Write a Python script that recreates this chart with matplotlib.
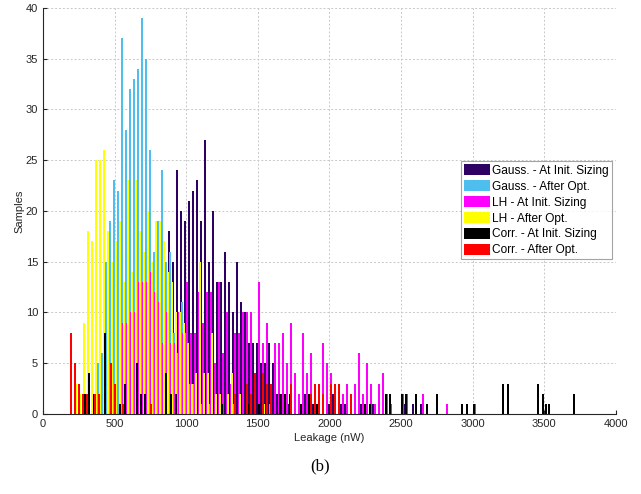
import matplotlib
matplotlib.use("Agg")
import matplotlib.pyplot as plt
import numpy as np

# histogram bin step (nW) and first bin centre of every series
BIN_STEP = 27.92

gauss_init_start = 684.5
gauss_init = [7, 9, 8, 15, 10, 19, 14, 18, 15, 24, 20, 19, 21, 22, 23, 19, 27, 15, 20, 13,
              13, 16, 13, 10, 15, 11, 10, 7, 7, 7, 5, 5, 7, 5, 2, 2, 2, 1, 0, 0,
              1, 2, 1, 1, 0, 0, 0, 1, 2, 0, 1, 1, 0, 0, 0, 1, 0, 0, 1, 0,
              0, 0, 0, 0, 0, 0, 1, 0, 1, 0, 1]

gauss_opt_start = 356.5
gauss_opt = [1, 5, 6, 15, 19, 23, 22, 37, 28, 32, 33, 34, 39, 35, 26, 16, 19, 24, 15, 16,
             8, 6, 11, 8, 3, 3, 0, 1, 0, 1, 0, 0, 1, 0, 0, 1, 0, 0, 0, 0,
             0, 0, 0, 0, 1]

lh_init_start = 558.5
lh_init = [9, 9, 10, 10, 13, 13, 13, 14, 12, 11, 7, 10, 7, 7, 10, 8, 13, 8, 8, 12,
           9, 12, 12, 5, 13, 6, 10, 3, 8, 8, 10, 10, 10, 4, 13, 7, 9, 3, 7, 7,
           8, 5, 9, 4, 2, 8, 4, 6, 3, 3, 7, 5, 4, 2, 3, 2, 3, 2, 3, 6,
           2, 5, 3, 1, 3, 4, 2, 1, 0, 0, 2, 2, 0, 0, 0, 2, 0, 0, 0, 0,
           0, 1, 0, 0, 0, 0, 0, 0, 1]

lh_opt_start = 230.5
lh_opt = [3, 2, 9, 18, 17, 25, 25, 26, 18, 15, 17, 19, 13, 23, 14, 23, 18, 16, 20, 15,
          19, 19, 17, 14, 13, 10, 10, 9, 7, 3, 4, 15, 4, 4, 8, 2, 2, 0, 2, 4,
          0, 2, 0, 0, 0, 0, 0, 1]

corr_opt_start = 195.5
corr_opt = [8, 5, 3, 2, 2, 0, 2, 2, 0, 0, 5, 3, 0, 1, 0, 0, 0, 0, 0, 0,
            1, 0, 0, 0, 0, 0, 0, 0, 0, 0, 0, 0, 0, 0, 0, 0, 0, 0, 0, 0,
            0, 2, 0, 0, 3, 2, 4, 0, 4, 3, 3, 0, 0, 0, 0, 3, 0, 0, 0, 0,
            2, 3, 3, 2, 0, 3, 3, 3, 0, 0, 2]

# the initial-sizing correlated run is sparse, so its bins are listed directly
corr_init_x = [291, 324, 358, 435, 538, 575, 654, 682, 714, 859, 896, 929, 1250, 1430,
               1506, 1655, 1690, 1725, 1800, 1855, 1890, 1915, 2249, 2281, 2393, 2425,
               2505, 2535, 2605, 2679, 2749, 2926, 2959, 3010, 3210, 3247, 3457, 3492,
               3512, 3534, 3708]
corr_init = [2, 4, 2, 8, 1, 3, 5, 2, 2, 4, 2, 2, 1, 1,
             1, 2, 2, 2, 1, 2, 1, 1, 1, 1, 2, 2,
             2, 2, 2, 1, 2, 1, 1, 1, 3, 3, 3, 2,
             1, 1, 2]

labels = ["Gauss. - At Init. Sizing", "Gauss. - After Opt.", "LH - At Init. Sizing",
          "LH - After Opt.", "Corr. - At Init. Sizing", "Corr. - After Opt."]
colors = ["#2e0063", "#4dbeee", "#ff00ff", "#ffff00", "#000000", "#ff0000"]


def centres(start, counts):
    return start + BIN_STEP * np.arange(len(counts))


series = [
    (centres(gauss_init_start, gauss_init), gauss_init),
    (centres(gauss_opt_start, gauss_opt), gauss_opt),
    (centres(lh_init_start, lh_init), lh_init),
    (centres(lh_opt_start, lh_opt), lh_opt),
    (np.array(corr_init_x), corr_init),
    (centres(corr_opt_start, corr_opt), corr_opt),
]

plt.rcParams["font.family"] = ["Liberation Sans", "DejaVu Sans"]

fig = plt.figure(figsize=(6.41, 4.94), dpi=100)
ax = fig.add_axes([0.067, 0.162, 0.894, 0.822])

for (xs, ys), label, color in zip(series, labels, colors):
    ax.bar(xs, ys, width=13, color=color, edgecolor="none", label=label,
           antialiased=False, zorder=2)

ax.set_xlim(0, 4000)
ax.set_ylim(0, 40)
ax.set_xticks(np.arange(0, 4001, 500))
ax.set_yticks(np.arange(0, 41, 5))
ax.tick_params(direction="in", labelsize=8, colors="#262626", length=3)
ax.grid(True, linestyle=(0, (2, 2)), color="#c8c8c8", linewidth=0.7, zorder=0)
ax.set_axisbelow(True)
for side in ("top", "right"):
    ax.spines[side].set_visible(False)
for side in ("left", "bottom"):
    ax.spines[side].set_color("#262626")
    ax.spines[side].set_linewidth(0.8)

ax.set_xlabel("Leakage (nW)", fontsize=8, color="#262626", labelpad=3)
ax.set_ylabel("Samples", fontsize=8, color="#262626", labelpad=1)

leg = ax.legend(loc="upper right", bbox_to_anchor=(0.993, 0.622), fontsize=8.6,
                frameon=True, fancybox=False, handlelength=2.2, handleheight=1.05,
                handletextpad=0.2, labelspacing=0.27, borderpad=0.25, borderaxespad=0)
leg.get_frame().set_edgecolor("#8c8c8c")
leg.get_frame().set_linewidth(0.8)

fig.text(0.5, 0.055, "(b)", ha="center", va="center", fontsize=12,
         family=["Liberation Serif", "DejaVu Serif"])

fig.savefig("out.png", dpi=100)
